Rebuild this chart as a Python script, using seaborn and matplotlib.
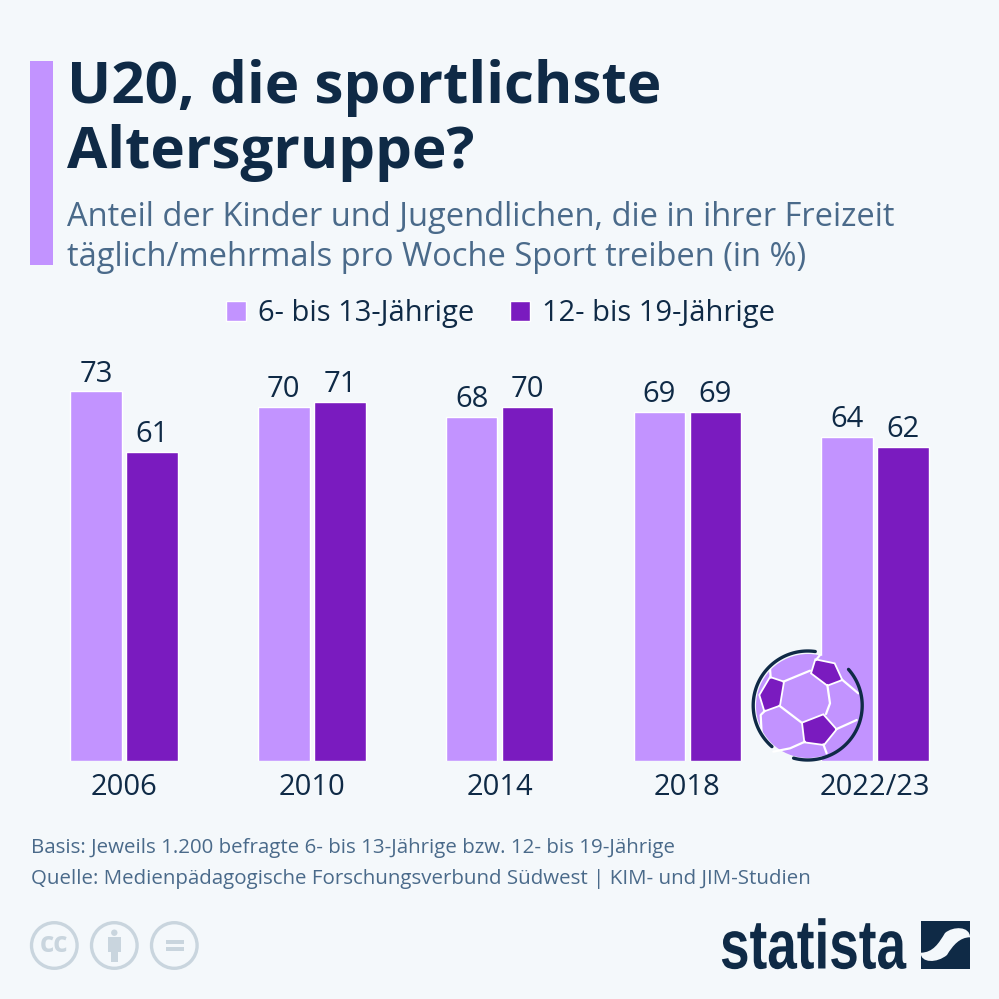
import numpy as np
import pandas as pd
import matplotlib
matplotlib.use("Agg")
import matplotlib.pyplot as plt
from matplotlib.patches import Circle, Polygon, Rectangle, PathPatch
from matplotlib.patheffects import AbstractPathEffect
from matplotlib.path import Path
from matplotlib.transforms import Affine2D
import seaborn as sns

# Daten
jahre = ["2006", "2010", "2014", "2018", "2022/23"]
kim_werte = [73, 70, 68, 69, 64]
jim_werte = [61, 71, 70, 69, 62]
gruppe_kim = "6- bis 13-Jährige"
gruppe_jim = "12- bis 19-Jährige"

BG = "#F4F8FB"
DUNKEL = "#0F2A46"
GRAU = "#4A6A8A"
HELL = "#C293FF"
LILA = "#7A1BBF"
ICON = "#C9D5DE"

sns.set_theme(style="white")
plt.rcParams["font.family"] = ["Open Sans", "DejaVu Sans"]

df = pd.DataFrame({
    "jahr": jahre * 2,
    "wert": kim_werte + jim_werte,
    "gruppe": [gruppe_kim] * len(jahre) + [gruppe_jim] * len(jahre),
})

fig = plt.figure(figsize=(9.99, 9.99), dpi=100, facecolor=BG)

# Balken
ax = fig.add_axes([30.2 / 999, 238 / 999, 938.8 / 999, 405 / 999])
ax.patch.set_alpha(0)
sns.barplot(data=df, x="jahr", y="wert", hue="gruppe", order=jahre,
            hue_order=[gruppe_kim, gruppe_jim],
            palette=[HELL, LILA], saturation=1, width=0.5965, gap=0.08,
            ax=ax)
ax.set_xlim(-0.5, 4.5)
ax.set_ylim(0, 80)
ax.set_xlabel("")
ax.set_ylabel("")
ax.set_yticks([])
sns.despine(ax=ax, left=True, bottom=True)
ax.tick_params(axis="x", length=0, pad=8.3, labelsize=21, labelcolor=DUNKEL)
for c in ax.containers:
    ax.bar_label(c, padding=2, fontsize=21, color=DUNKEL)

ax.legend(loc="center", bbox_to_anchor=(500.5 / 999, 685.5 / 999),
          bbox_transform=fig.transFigure, ncols=2, frameon=False,
          fontsize=21, labelcolor=DUNKEL, handlelength=0.686, handleheight=0.686,
          handletextpad=0.41, columnspacing=1.23, borderpad=0, borderaxespad=0)

# Overlay in Pixeln fuer Texte und Deko
ov = fig.add_axes([0, 0, 1, 1])
ov.set_xlim(0, 999)
ov.set_ylim(999, 0)
ov.axis("off")
ov.patch.set_alpha(0)

ov.add_patch(Rectangle((30, 61), 23, 204, color=HELL, lw=0))
ov.text(67, 103, "U20, die sportlichste", fontsize=42, fontweight="bold", color=DUNKEL)
ov.text(67, 168, "Altersgruppe?", fontsize=42, fontweight="bold", color=DUNKEL)
ov.text(67, 226, "Anteil der Kinder und Jugendlichen, die in ihrer Freizeit", fontsize=23.5, color=GRAU)
ov.text(67, 266, "täglich/mehrmals pro Woche Sport treiben (in %)", fontsize=23.5, color=GRAU)
ov.text(31, 853, "Basis: Jeweils 1.200 befragte 6- bis 13-Jährige bzw. 12- bis 19-Jährige", fontsize=14.75, color=GRAU)
ov.text(31, 884, "Quelle: Medienpädagogische Forschungsverbund Südwest | KIM- und JIM-Studien", fontsize=14.75, color=GRAU)


# Fussball, Koordinaten aus dem Zoom (3x, Ursprung 740/640)
def zp(pts):
    return [(740 + x / 3, 640 + y / 3) for x, y in pts]


ov.add_patch(Circle((808, 706), 52, color=HELL, lw=0, zorder=3))
for pts in [[(226, 58), (284, 70), (307, 120), (262, 137), (213, 100)],
            [(90, 111), (132, 125), (120, 197), (73, 214), (58, 165)],
            [(250, 223), (290, 268), (252, 315), (193, 307), (186, 248)]]:
    ov.add_patch(Polygon(zp(pts), closed=True, fc=LILA, ec="white", lw=1.3, zorder=4))
for pts in [[(130, 125), (210, 92)], [(262, 135), (270, 190), (258, 222)],
            [(118, 197), (185, 248)], [(305, 118), (355, 160)],
            [(228, 60), (240, 45)], [(288, 268), (350, 240)],
            [(250, 313), (260, 340)], [(195, 305), (150, 325), (100, 335)],
            [(75, 212), (62, 225), (65, 280), (80, 310)], [(92, 113), (90, 85)]]:
    xy = np.array(zp(pts))
    ov.plot(xy[:, 0], xy[:, 1], color="white", lw=1.6, zorder=4)
for a0, a1 in [(82, 229), (255, 401.5)]:
    t = np.radians(np.linspace(a0, a1, 80))
    ov.plot(807.7 + 54.5 * np.cos(t), 705.5 - 54.5 * np.sin(t), color=DUNKEL,
            lw=2.4, solid_capstyle="round", zorder=5)

# CC Symbole
for cx in [54.3, 114.3, 174.3]:
    ov.add_patch(Circle((cx, 945.5), 22.8, fc="none", ec=ICON, lw=2.4))
ov.text(54.3, 944, "cc", fontsize=20, fontweight="bold", color=ICON, ha="center", va="center")
ov.add_patch(Circle((114.3, 932.7), 3.2, color=ICON, lw=0))
ov.add_patch(Rectangle((107.7, 937), 13.3, 15, color=ICON, lw=0))
ov.add_patch(Rectangle((110.7, 952), 7.3, 10, color=ICON, lw=0))
ov.add_patch(Rectangle((166, 940), 18, 4.3, color=ICON, lw=0))
ov.add_patch(Rectangle((166, 947.3), 18, 4, color=ICON, lw=0))


# Logo: Schrift schmaler ziehen, bleibt aber echter Text
class Schmal(AbstractPathEffect):
    def __init__(self, x0, sx):
        super().__init__()
        self.x0, self.sx = x0, sx

    def draw_path(self, renderer, gc, tpath, affine, rgbFace=None):
        squeeze = Affine2D().translate(-self.x0, 0).scale(self.sx, 1).translate(self.x0, 0)
        renderer.draw_path(gc, tpath, affine + squeeze, rgbFace)


ov.text(720, 968.5, "statista", fontsize=50, fontweight="bold", color=DUNKEL,
        family=["Liberation Sans"], path_effects=[Schmal(720, 0.765)])
ov.add_patch(Rectangle((920.7, 920.7), 49.3, 48.6, color=DUNKEL, lw=0))
band = Path([(920.7, 952.7), (933, 952.7), (939, 943), (945, 933), (953, 926), (970, 926),
             (970, 937.3), (960, 937.3), (953, 945), (947, 955), (937, 963.3), (920.7, 963.3),
             (920.7, 952.7)],
            [Path.MOVETO, Path.CURVE4, Path.CURVE4, Path.CURVE4, Path.CURVE4, Path.CURVE4,
             Path.LINETO, Path.CURVE4, Path.CURVE4, Path.CURVE4, Path.CURVE4, Path.CURVE4,
             Path.CLOSEPOLY])
ov.add_patch(PathPatch(band, fc=BG, ec="none"))

fig.savefig("out.png", dpi=100, facecolor=BG)
